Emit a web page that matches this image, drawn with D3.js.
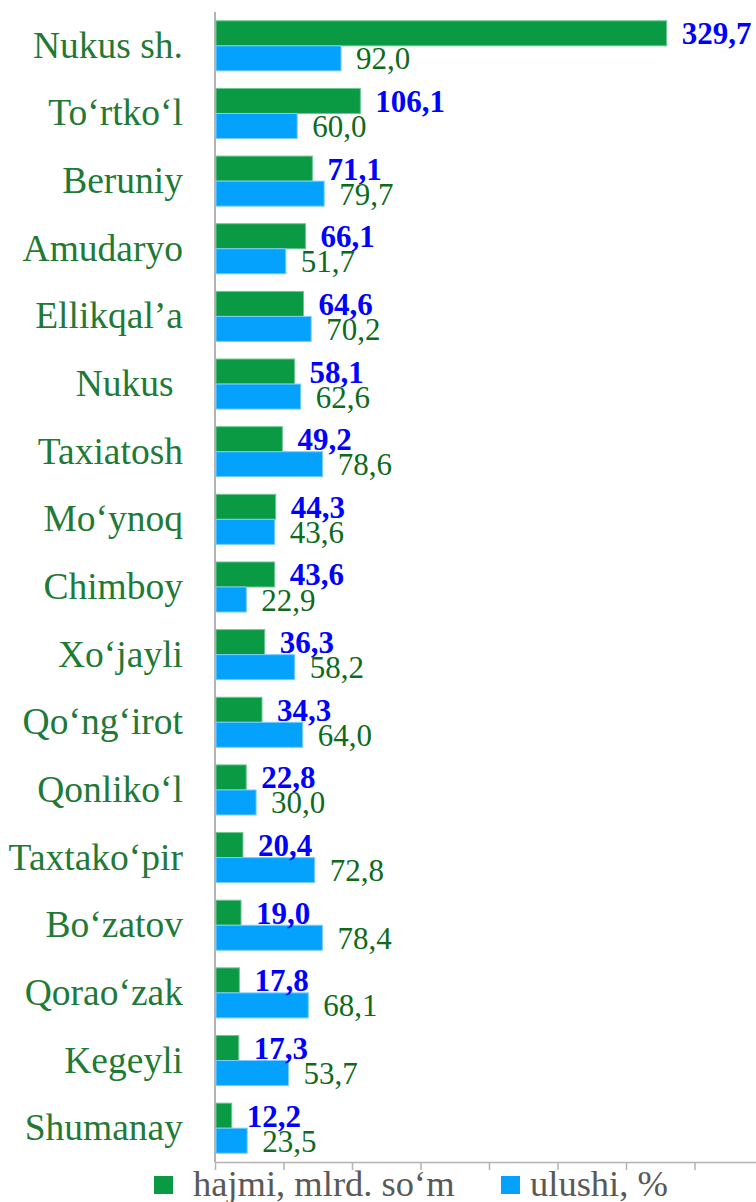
<html>
<head>
<meta charset="utf-8">
<script src="https://d3js.org/d3.v7.min.js"></script>
<style>
  body { margin: 0; background: #fff; }
  svg text { font-family: "Liberation Serif", "Times New Roman", serif; white-space: pre; }
  .axis path, .axis line { stroke: #b3b3b3; stroke-width: 1.5px; }
  .cat { fill: #1f7a36; font-size: 37.5px; }
  .val-g { fill: #0000ff; font-size: 31px; font-weight: bold; }
  .val-b { fill: #0e6b1c; font-size: 31px; }
  .legend { fill: #595959; font-size: 36.5px; }
</style>
</head>
<body>
<svg id="chart" width="756" height="1202"></svg>
<script>
const districts = ["Nukus sh.", "To‘rtko‘l", "Beruniy", "Amudaryo", "Ellikqal’a", "Nukus ", "Taxiatosh",
  "Mo‘ynoq", "Chimboy", "Xo‘jayli", "Qo‘ng‘irot", "Qonliko‘l", "Taxtako‘pir", "Bo‘zatov",
  "Qorao‘zak", "Kegeyli", "Shumanay"];
const hajmi = [329.7, 106.1, 71.1, 66.1, 64.6, 58.1, 49.2, 44.3, 43.6, 36.3, 34.3, 22.8, 20.4, 19.0, 17.8, 17.3, 12.2];
const ulushi = [92.0, 60.0, 79.7, 51.7, 70.2, 62.6, 78.6, 43.6, 22.9, 58.2, 64.0, 30.0, 72.8, 78.4, 68.1, 53.7, 23.5];
const seriesNames = ["hajmi, mlrd. so‘m", "ulushi, %"];
const seriesColors = ["#0a9a44", "#04a2fd"];
const seriesStroke = ["#6cc892", "#7ccdfd"];
const xTicks = [0, 50, 100, 150, 200, 250, 300, 350];

const svg = d3.select("#chart");
const fmt = v => v.toFixed(1).replace(".", ",");

const data = districts.map((d, i) => ({ name: d, vals: [hajmi[i], ulushi[i]] }));

const x = d3.scaleLinear().domain([0, 400]).range([215, 763]);
const y = d3.scaleBand().domain(districts).range([12, 1162]).paddingInner(0.26).paddingOuter(0.13);
const ySub = d3.scaleBand().domain([0, 1]).range([0, y.bandwidth()]);

// bottom axis
svg.append("g")
  .attr("class", "axis")
  .attr("transform", "translate(0,1162)")
  .call(d3.axisBottom(x).tickValues(xTicks).tickSize(8).tickSizeOuter(0).tickFormat(""));

// vertical axis line
svg.append("line")
  .attr("x1", x(0)).attr("x2", x(0))
  .attr("y1", 12).attr("y2", 1162)
  .attr("stroke", "#b3b3b3").attr("stroke-width", 2);

const rows = svg.selectAll("g.row").data(data).join("g")
  .attr("class", "row")
  .attr("transform", d => "translate(0," + y(d.name) + ")");

rows.selectAll("rect").data(d => d.vals).join("rect")
  .attr("x", x(0) + 1)
  .attr("y", (v, j) => ySub(j))
  .attr("width", v => x(v) - x(0) - 1)
  .attr("height", ySub.bandwidth())
  .attr("fill", (v, j) => seriesColors[j])
  .attr("stroke", (v, j) => seriesStroke[j])
  .attr("stroke-width", 1);

rows.selectAll("text.v").data(d => d.vals).join("text")
  .attr("class", (v, j) => j === 0 ? "v val-g" : "v val-b")
  .attr("x", v => x(v) + 15)
  .attr("y", (v, j) => ySub(j) + ySub.bandwidth() / 2 + 11)
  .text(v => fmt(v));

// category labels
svg.selectAll("text.cat").data(districts).join("text")
  .attr("class", "cat")
  .attr("text-anchor", "end")
  .attr("x", 183)
  .attr("y", d => y(d) + y.bandwidth() / 2 + 12)
  .text(d => d);

// legend
const legX = [154, 501];
const legTextX = [193, 530];
seriesNames.forEach((s, i) => {
  svg.append("rect")
    .attr("x", legX[i]).attr("y", 1176)
    .attr("width", 19).attr("height", 18)
    .attr("fill", seriesColors[i]);
  svg.append("text")
    .attr("class", "legend")
    .attr("x", legTextX[i]).attr("y", 1196)
    .text(s);
});
</script>
</body>
</html>
